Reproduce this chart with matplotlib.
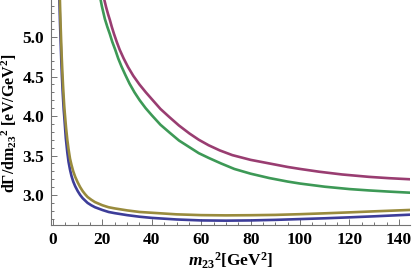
import matplotlib
matplotlib.use("Agg")
import matplotlib.pyplot as plt
from matplotlib.ticker import MultipleLocator, FormatStrFormatter

# fonte bold serif parecida com a do Mathematica
plt.rcParams['mathtext.fontset'] = 'custom'
plt.rcParams['mathtext.rm'] = 'Liberation Serif:bold'
plt.rcParams['mathtext.bf'] = 'Liberation Serif:bold'
plt.rcParams['mathtext.it'] = 'Liberation Serif:bold:italic'

# curvas
x_azul = [2.6, 2.85, 3.1, 3.35, 3.6, 3.85, 4.1, 4.35, 4.6, 5.2, 5.8, 6.3, 6.9, 7.5, 8.2, 9, 10, 11, 12, 13, 14, 15.5, 17, 20,
          22.5, 25, 30, 35, 40, 50, 60, 70, 80, 90, 100, 110, 120, 130, 144]
y_azul = [5.47, 5.18, 4.95, 4.72, 4.52, 4.35, 4.21, 4.08, 3.98, 3.72, 3.54, 3.42, 3.32, 3.24, 3.17, 3.11, 3.05, 3.00, 2.96, 2.93, 2.90, 2.87, 2.845, 2.81,
          2.785, 2.77, 2.745, 2.725, 2.71, 2.69, 2.678, 2.675, 2.678, 2.685, 2.695, 2.705, 2.717, 2.73, 2.75]

x_ouro = [2.8, 3.05, 3.3, 3.55, 3.8, 4.05, 4.3, 4.55, 4.8, 5.3, 5.8, 6.3, 6.9, 7.5, 8.2, 9, 10, 11, 12, 13, 14, 15.5, 17, 20,
          22.5, 25, 30, 35, 40, 50, 60, 70, 80, 90, 100, 110, 120, 130, 144]
y_ouro = [5.47, 5.19, 4.96, 4.74, 4.56, 4.40, 4.26, 4.13, 4.03, 3.85, 3.70, 3.58, 3.46, 3.38, 3.30, 3.23, 3.16, 3.10, 3.05, 3.01, 2.975, 2.94, 2.91, 2.87,
          2.845, 2.83, 2.805, 2.785, 2.775, 2.755, 2.745, 2.742, 2.744, 2.748, 2.757, 2.768, 2.78, 2.793, 2.81]

x_roxo = [20.8, 21.5, 22.3, 23, 23.8, 24.7, 25.8, 27, 28.6, 30.4, 32.5, 35, 37.6, 40.4, 43.5, 47, 51, 55.2, 59, 63, 67.5,
          72.6, 80, 87.5, 95, 100, 107.7, 117, 127.8, 136, 144]
y_roxo = [5.47, 5.38, 5.29, 5.22, 5.13, 5.04, 4.94, 4.84, 4.73, 4.62, 4.51, 4.40, 4.30, 4.20, 4.09, 3.99, 3.88, 3.78, 3.70, 3.63, 3.565,
          3.505, 3.445, 3.40, 3.355, 3.33, 3.295, 3.26, 3.23, 3.213, 3.20]

x_verde = [19.3, 19.8, 20.4, 21, 22, 23, 24, 25.2, 26.4, 27.7, 29.3, 31, 33, 35.1, 37.5, 40, 43.5, 47.2, 51, 55, 59, 63, 68,
           73.4, 80, 87.5, 95, 100, 110, 120, 127.8, 136, 144]
y_verde = [5.47, 5.39, 5.31, 5.23, 5.13, 5.04, 4.94, 4.84, 4.73, 4.63, 4.52, 4.41, 4.30, 4.20, 4.10, 4.01, 3.89, 3.79, 3.69, 3.61, 3.53, 3.47, 3.40,
           3.33, 3.27, 3.215, 3.17, 3.145, 3.105, 3.075, 3.058, 3.043, 3.03]

cores = {
    "azul": (0.24, 0.24, 0.6),
    "roxo": (0.6, 0.24, 0.4428),
    "ouro": (0.6, 0.547, 0.24),
    "verde": (0.24, 0.6, 0.33692),
}

fig = plt.figure(figsize=(4.16, 2.74), dpi=100)
ax = fig.add_axes([51 / 416, 49 / 274, 359 / 416, 225 / 274])

lw = 1.9
ax.plot(x_azul, y_azul, color=cores["azul"], lw=lw, solid_joinstyle='round')
ax.plot(x_roxo, y_roxo, color=cores["roxo"], lw=lw, solid_joinstyle='round')
ax.plot(x_ouro, y_ouro, color=cores["ouro"], lw=lw, solid_joinstyle='round')
ax.plot(x_verde, y_verde, color=cores["verde"], lw=lw, solid_joinstyle='round')

ax.set_xlim(-0.8, 144.5)
ax.set_ylim(2.62, 5.47)

for lado in ['top', 'right']:
    ax.spines[lado].set_visible(False)
for lado in ['left', 'bottom']:
    ax.spines[lado].set_color('0.45')
    ax.spines[lado].set_linewidth(0.8)

ax.xaxis.set_major_locator(MultipleLocator(20))
ax.xaxis.set_minor_locator(MultipleLocator(5))
ax.yaxis.set_major_locator(MultipleLocator(0.5))
ax.yaxis.set_minor_locator(MultipleLocator(0.1))
ax.yaxis.set_major_formatter(FormatStrFormatter('%.1f'))

ax.tick_params(which='both', direction='in', color='0.45', width=0.7)
ax.tick_params(which='major', length=4.5, pad=5)
ax.tick_params(which='minor', length=2.5)
for lab in ax.get_xticklabels() + ax.get_yticklabels():
    lab.set_fontfamily('Liberation Serif')
    lab.set_fontweight('bold')
    lab.set_fontsize(12.5)

ax.set_xlabel(r'$m_{\mathrm{23}}{}^{\mathrm{2}}$[GeV$^{\mathrm{2}}$]',
              fontfamily='Liberation Serif', fontweight='bold', fontsize=12.5)
ax.set_ylabel(r'dΓ/dm$_{\mathrm{23}}{}^{\mathrm{2}}$ [eV/GeV$^{\mathrm{2}}$]',
              fontfamily='Liberation Serif', fontweight='bold', fontsize=11.5)
ax.xaxis.set_label_coords(0.5, -0.115)
ax.yaxis.set_label_coords(-0.088, 0.45)

fig.savefig('out.png', dpi=100)
